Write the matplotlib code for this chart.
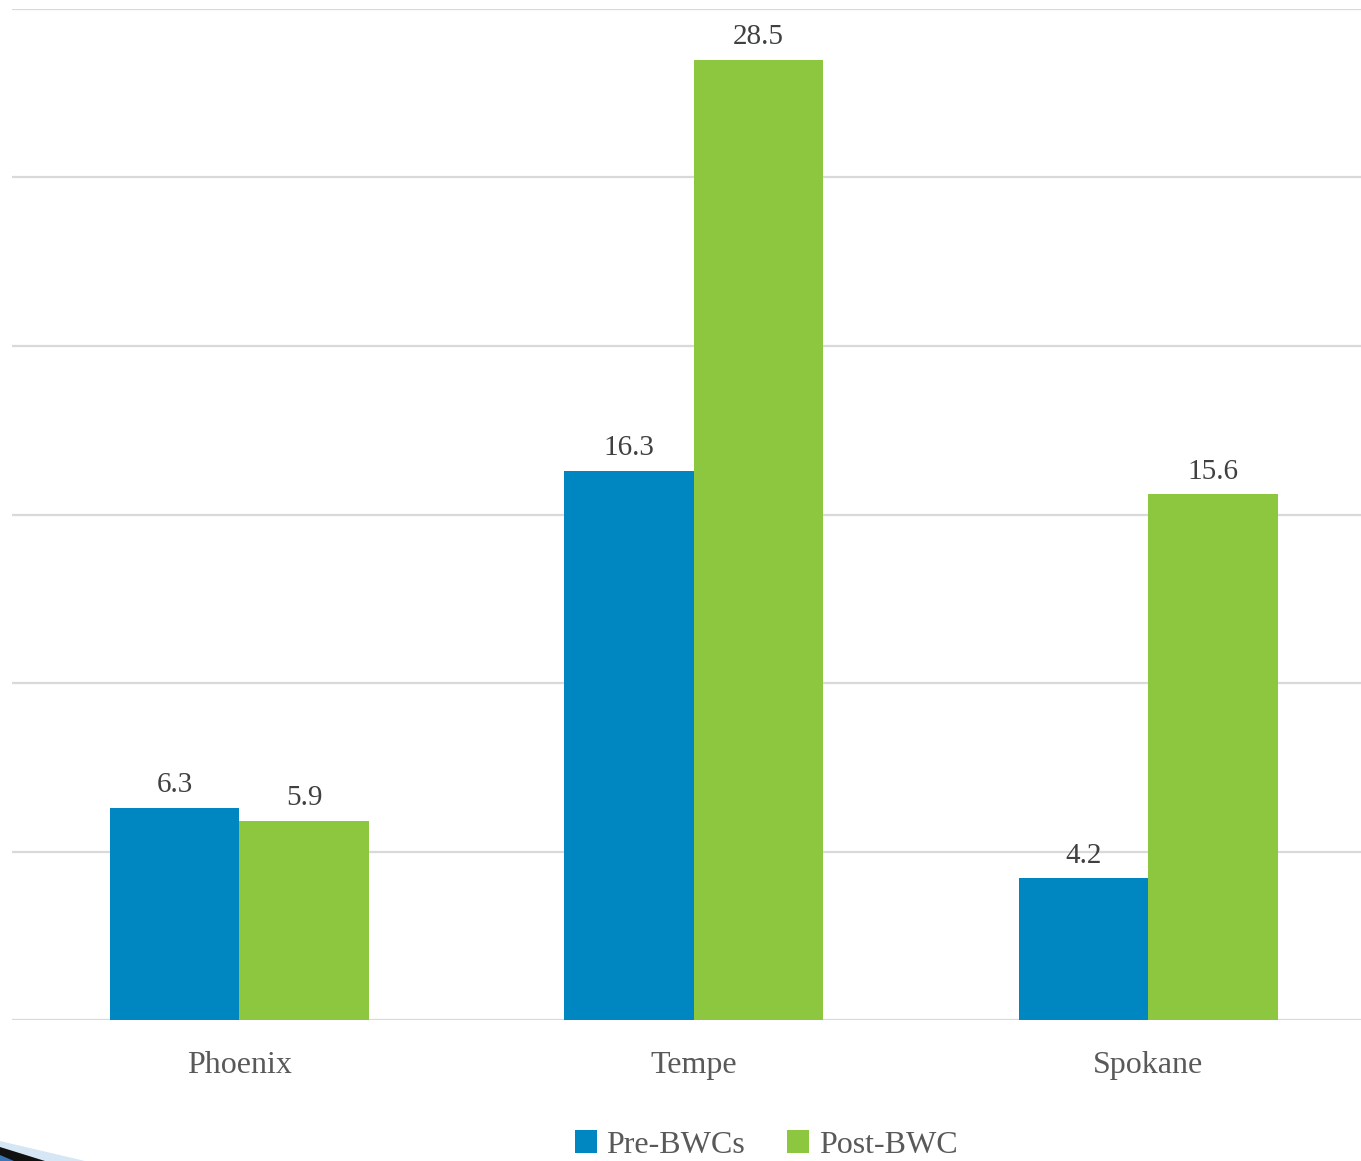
import numpy as np
import matplotlib.pyplot as plt
from matplotlib.patches import Polygon

plt.rcParams['font.family'] = ['Liberation Serif', 'DejaVu Serif']

cities = ['Phoenix', 'Tempe', 'Spokane']
pre_bwc = [6.3, 16.3, 4.2]
post_bwc = [5.9, 28.5, 15.6]
series_names = ['Pre-BWCs', 'Post-BWC']

blue = '#0087c1'
green = '#8dc63f'
text_gray = '#595959'
grid_gray = '#d9d9d9'

W, H = 1361, 1161
fig = plt.figure(figsize=(W / 100, H / 100), dpi=100)

# plot area runs a little past the right edge of the figure
left, right = 12 / W, 1375.5 / W
bottom, top = (H - 1020) / H, (H - 9) / H
ax = fig.add_axes([left, bottom, right - left, top - bottom])

x = np.arange(len(cities))
bw = 0.285
b1 = ax.bar(x - bw / 2, pre_bwc, bw, color=blue, label=series_names[0], zorder=3)
b2 = ax.bar(x + bw / 2, post_bwc, bw, color=green, label=series_names[1], zorder=3)

for bars, vals in ((b1, pre_bwc), (b2, post_bwc)):
    for rect, v in zip(bars, vals):
        ax.annotate(f'{v}', (rect.get_x() + rect.get_width() / 2, v),
                    xytext=(0, 7), textcoords='offset points',
                    ha='center', va='bottom', fontsize=21, color='#404040')

ax.set_xlim(-0.5, len(cities) - 0.5)
ax.set_ylim(0, 30)
ax.set_yticks(np.arange(0, 31, 5))
ax.yaxis.grid(True, color=grid_gray, linewidth=1.6, zorder=0)
ax.tick_params(axis='y', left=False, labelleft=False)
ax.set_xticks(x)
ax.set_xticklabels(cities, fontsize=23, color=text_gray)
ax.tick_params(axis='x', length=0, pad=22)
for s in ax.spines.values():
    s.set_visible(False)

fig.legend(handles=[b1, b2], loc='center', bbox_to_anchor=(766 / W, 16 / H),
           ncol=2, frameon=False, fontsize=23, handlelength=0.7,
           handleheight=0.7, handletextpad=0.3, columnspacing=1.3,
           labelcolor=text_gray)

# slide-corner swoosh in the lower left
swoosh = [
    ([(0, 1141), (0, 1161), (85, 1161)], '#d6e6f4'),
    ([(0, 1147), (0, 1161), (45, 1161)], '#111111'),
    ([(0, 1155), (0, 1161), (14, 1161)], '#3a78b5'),
]
for pts, col in swoosh:
    fig.patches.append(Polygon([(px / W, 1 - py / H) for px, py in pts],
                               closed=True, transform=fig.transFigure,
                               facecolor=col, edgecolor='none'))

fig.savefig('out.png', dpi=100)
